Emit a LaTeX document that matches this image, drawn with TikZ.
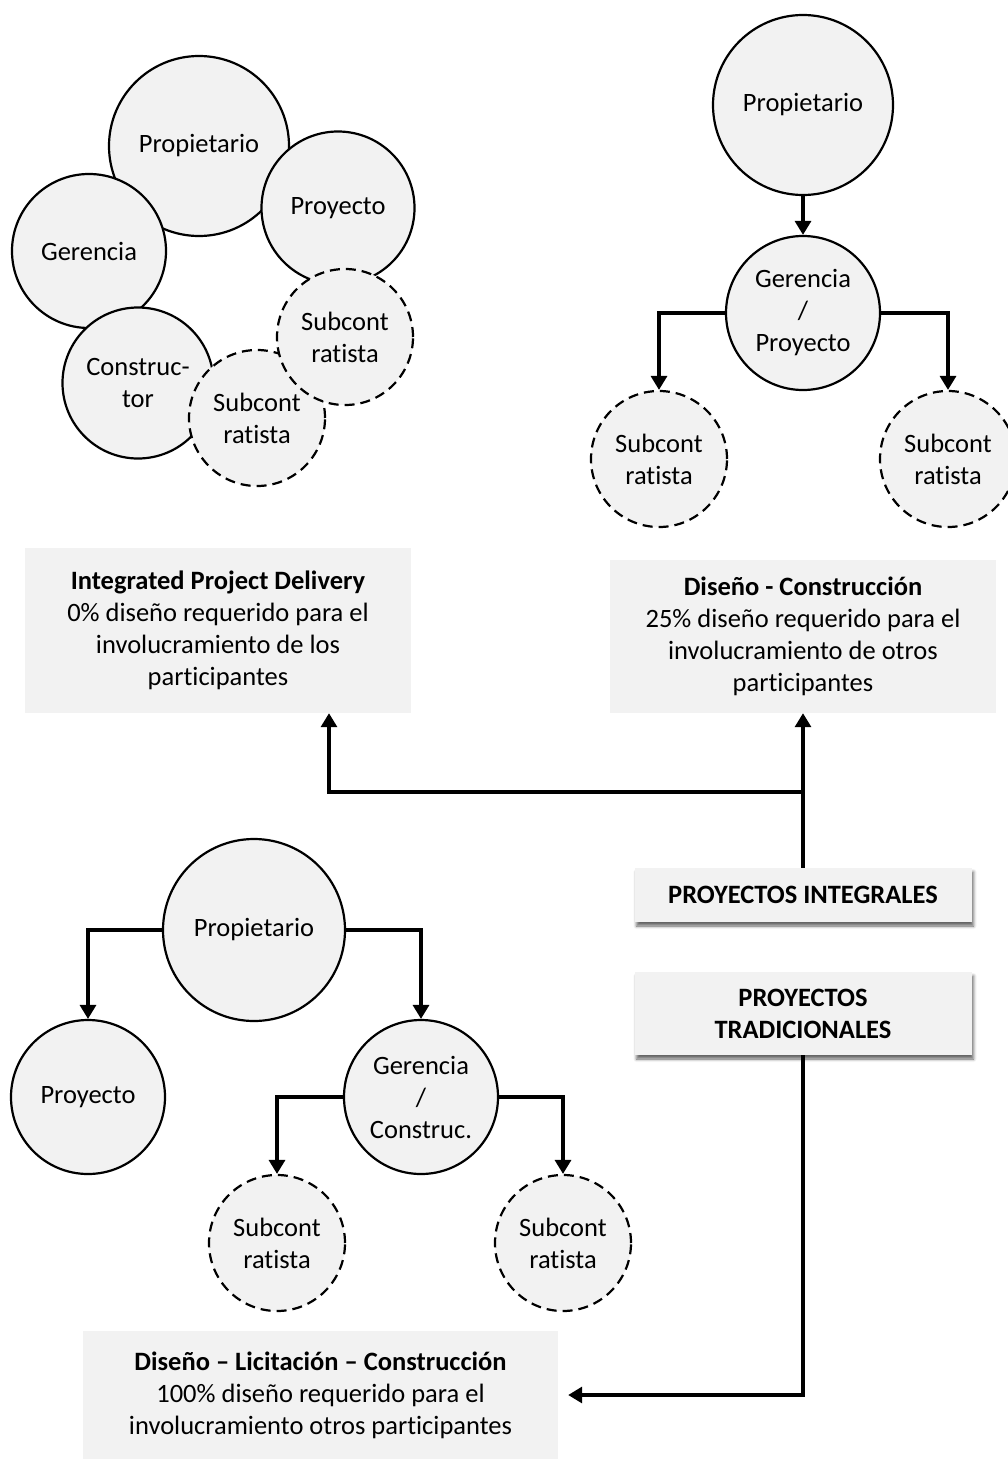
\documentclass[tikz,border=0pt]{standalone}
\usepackage{fontspec}
\setmainfont[Ligatures=NoCommon]{Carlito}
\usetikzlibrary{arrows.meta,shadows.blur}
\definecolor{boxgray}{HTML}{F2F2F2}
\begin{document}
\begin{tikzpicture}[x=1pt,y=-1pt,
  every node/.style={font=\fontsize{26.5}{32}\selectfont, align=center},
  actor/.style={circle, draw=black, line width=2.2pt, fill=boxgray, inner sep=0pt},
  sub/.style={actor, dash pattern=on 10pt off 6pt},
  infobox/.style={rectangle, fill=boxgray, inner sep=0pt},
  typebox/.style={infobox, blur shadow={shadow xshift=2pt, shadow yshift=-4pt, shadow blur radius=3pt, shadow opacity=60}},
  link/.style={line width=3.2pt},
  arr/.style={link, -{Triangle[width=16pt,length=14pt]}}]

\useasboundingbox (0,0) rectangle (1007,1461);

% Integrated Project Delivery: overlapping team
\node[actor, minimum size=180pt] (ipdOwner)   at (199,146) {Propietario};
\node[actor, minimum size=154pt] (ipdMgmt)    at (89,251)  {Gerencia};
\node[actor, minimum size=153pt] (ipdDesign)  at (338,208) {Proyecto};
\node[actor, minimum size=151pt] (ipdBuilder) at (138,383) {Construc-\\tor};
\node[sub,   minimum size=136pt] (ipdSubB)    at (257,418) {Subcont\\ratista};
\node[sub,   minimum size=136pt] (ipdSubR)    at (345,337) {Subcont\\ratista};

% Design-Build tree
\node[actor, minimum size=180pt] (dbOwner) at (803,105) {Propietario};
\node[actor, minimum size=154pt] (dbMgmt)  at (803,313) {Gerencia\\/\\Proyecto};
\node[sub,   minimum size=136pt] (dbSubL)  at (659,459) {Subcont\\ratista};
\node[sub,   minimum size=136pt] (dbSubR)  at (948,459) {Subcont\\ratista};
\draw[arr] (dbOwner.south) -- (dbMgmt.north);
\draw[arr] (dbMgmt.west) -| (dbSubL.north);
\draw[arr] (dbMgmt.east) -| (dbSubR.north);

% Description boxes
\node[infobox, minimum width=386pt, minimum height=165pt] (ipd) at (218,630.5)
  {\textbf{Integrated Project Delivery}\\0\% diseño requerido para el\\involucramiento de los\\participantes};
\node[infobox, minimum width=386pt, minimum height=153pt] (dc) at (803,636.5)
  {\textbf{Diseño - Construcción}\\25\% diseño requerido para el\\involucramiento de otros\\participantes};
\node[typebox, minimum width=337pt, minimum height=54pt] (integ) at (803,895)
  {\textbf{PROYECTOS INTEGRALES}};
\node[typebox, minimum width=337pt, minimum height=83pt] (trad) at (803,1013.5)
  {\textbf{PROYECTOS}\\\textbf{TRADICIONALES}};
\node[infobox, minimum width=475pt, minimum height=128pt] (dlc) at (320.5,1395)
  {\textbf{Diseño – Licitación – Construcción}\\100\% diseño requerido para el\\involucramiento otros participantes};

% Classification connectors
\coordinate (split) at (803,792);
\coordinate (ipdCol) at (329,0);
\draw[link] (integ.north) -- (split);
\draw[arr] (split) -- (dc.south);
\draw[arr] (split) -| (ipdCol |- ipd.south);
\draw[arr] (trad.south) |- ([xshift=10pt]dlc.east);

% Design-Bid-Build tree
\node[actor, minimum size=182pt] (dlcOwner)  at (254,930)  {Propietario};
\node[actor, minimum size=154pt] (dlcDesign) at (88,1097)  {Proyecto};
\node[actor, minimum size=154pt] (dlcMgmt)   at (421,1097) {Gerencia\\/\\Construc.};
\node[sub,   minimum size=136pt] (dlcSubL)   at (277,1243) {Subcont\\ratista};
\node[sub,   minimum size=136pt] (dlcSubR)   at (563,1243) {Subcont\\ratista};
\draw[arr] (dlcOwner.west) -| (dlcDesign.north);
\draw[arr] (dlcOwner.east) -| (dlcMgmt.north);
\draw[arr] (dlcMgmt.west) -| (dlcSubL.north);
\draw[arr] (dlcMgmt.east) -| (dlcSubR.north);

\end{tikzpicture}
\end{document}
